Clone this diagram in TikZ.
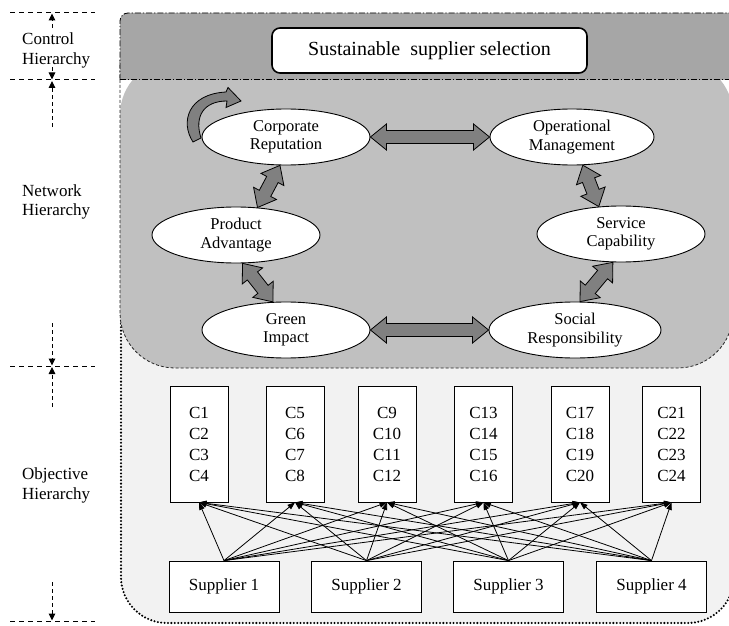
\documentclass[tikz,border=0pt]{standalone}
\usepackage{fontspec}
\setmainfont{Liberation Serif}
\usetikzlibrary{calc,arrows.meta,shapes.geometric}
\definecolor{topgray}{HTML}{A6A6A6}
\definecolor{netgray}{HTML}{C0C0C0}
\definecolor{objgray}{HTML}{F2F2F2}
\definecolor{arrgray}{HTML}{808080}
\newcommand\fatarrow[3]{%
  \coordinate (#1-a) at ($(#2)!16pt!(#3)$);
  \coordinate (#1-b) at ($(#3)!16pt!(#2)$);
  \filldraw[fatarr] (#2) -- ($(#1-a)!13pt!90:(#3)$) -- ($(#1-a)!6.5pt!90:(#3)$)
    -- ($(#1-b)!6.5pt!-90:(#2)$) -- ($(#1-b)!13pt!-90:(#2)$) -- (#3)
    -- ($(#1-b)!13pt!90:(#2)$) -- ($(#1-b)!6.5pt!90:(#2)$)
    -- ($(#1-a)!6.5pt!-90:(#3)$) -- ($(#1-a)!13pt!-90:(#3)$) -- cycle;}
\begin{document}
\begin{tikzpicture}[x=1pt,y=-1pt,
  fatarr/.style={fill=arrgray,draw=black,line width=0.8pt,line join=miter},
  ell/.style={ellipse,draw=black,fill=white,line width=0.9pt,minimum width=168,minimum height=56,inner sep=0pt,align=center,font=\fontsize{16.5}{18.5}\selectfont},
  cbox/.style={rectangle,draw=black,fill=white,line width=0.8pt,minimum width=58,minimum height=116,inner sep=0pt,align=center,font=\fontsize{17}{21}\selectfont},
  sbox/.style={rectangle,draw=black,fill=white,line width=0.8pt,minimum width=110,minimum height=51,inner sep=0pt,font=\fontsize{17}{20}\selectfont},
  lbl/.style={anchor=west,align=left,inner sep=0pt,font=\fontsize{17}{19.5}\selectfont},
  hdash/.style={draw=black,line width=1pt,dash pattern=on 5pt off 4pt},
  vdash/.style={draw=black,line width=1pt,dash pattern=on 4pt off 3pt,-{Triangle[length=7pt,width=6.5pt]}},
  sarr/.style={draw=black,line width=0.8pt,-{Triangle[length=7.5pt,width=5.5pt]}},
  dashdot/.style={draw=black,line width=0.8pt,dash pattern=on 6pt off 2pt on 1.2pt off 2pt},
  netborder/.style={draw=black!85,line width=0.8pt,dash pattern=on 3pt off 2pt},
  objborder/.style={draw=black,line width=2.3pt,line cap=round,dash pattern=on 0pt off 3.4pt}]
\useasboundingbox (0,0) rectangle (729,626);
\clip (0,0) rectangle (729,626);
% objective region
\fill[objgray,rounded corners=46pt] (121,300) -- (121,623) -- (734,623) -- (734,300) -- cycle;
\draw[objborder,rounded corners=46pt] (121,300) -- (121,623) -- (734,623) -- (734,300);
% network region
\fill[netgray,rounded corners=55pt] (120,60) -- (120,368) -- (733,368) -- (733,60) -- cycle;
\draw[netborder,rounded corners=55pt] (120,60) -- (120,368) -- (733,368) -- (733,60);
% control region
\fill[topgray] (120,80) [rounded corners=8pt] -- (120,13) [sharp corners] -- (745,13) -- (745,80) -- cycle;
\draw[dashdot] (120,80) [rounded corners=8pt] -- (120,13) [sharp corners] -- (745,13);
\draw[dashdot] (120,79.5) -- (745,79.5);
% title
\node[draw=black,fill=white,line width=1.6pt,rounded corners=8pt,minimum width=315,minimum height=45,inner sep=0pt,font=\fontsize{20}{24}\selectfont] (ss) at (429.5,50.5) {Sustainable\ \ supplier selection};
% left column
\node[lbl] (lc) at (22,50.5) {Control\\Hierarchy};
\node[lbl] (ln) at (22,202) {Network\\Hierarchy};
\node[lbl] (lo) at (22,485.5) {Objective\\Hierarchy};
\foreach \yy in {13,80,366,621} \draw[hdash] (10,\yy) -- (95,\yy);
\coordinate (ca1) at (52,28); \coordinate (ca2) at (52,13.5);
\coordinate (cb1) at (52,67); \coordinate (cb2) at (52,79.5);
\coordinate (na1) at (52,127); \coordinate (na2) at (52,81);
\coordinate (nb1) at (52,323); \coordinate (nb2) at (52,365.5);
\coordinate (oa1) at (52,407); \coordinate (oa2) at (52,367);
\coordinate (ob1) at (52,582); \coordinate (ob2) at (52,620.5);
\draw[vdash] (ca1) -- (ca2);
\draw[vdash] (cb1) -- (cb2);
\draw[vdash] (na1) -- (na2);
\draw[vdash] (nb1) -- (nb2);
\draw[vdash] (oa1) -- (oa2);
\draw[vdash] (ob1) -- (ob2);
% ellipses
\node[ell] (cr) at (286,137) {Corporate\\Reputation};
\node[ell,minimum width=164] (op) at (572,137) {Operational\\Management};
\node[ell] (pa) at (236,235) {Product\\Advantage};
\node[ell] (sc) at (621,234) {Service\\Capability};
\node[ell] (gi) at (286,330) {Green\\Impact};
\node[ell,minimum width=172] (sr) at (575,330) {Social\\Responsibility};
% fat double arrows
\fatarrow{f1}{cr.east}{op.west}
\fatarrow{f2}{gi.east}{sr.west}
\fatarrow{f3}{cr.-102}{pa.52}
\fatarrow{f4}{pa.-77}{gi.115}
\fatarrow{f5}{op.-69}{sc.129}
\fatarrow{f6}{sc.-106}{sr.80}
% curved self arrow
\filldraw[fatarr] (193,142) .. controls (180,122) and (188,94) .. (226,92)
  -- (228,87.5) -- (241,101) -- (226,107.5) -- (227,101)
  .. controls (204,101) and (194,116) .. (201,138) -- cycle;
% objective boxes
\node[cbox] (c1) at (199,444) {C1\\C2\\C3\\C4};
\node[cbox] (c2) at (295,444) {C5\\C6\\C7\\C8};
\node[cbox] (c3) at (387,444) {C9\\C10\\C11\\C12};
\node[cbox] (c4) at (483.5,444) {C13\\C14\\C15\\C16};
\node[cbox] (c5) at (580,444) {C17\\C18\\C19\\C20};
\node[cbox] (c6) at (671.5,444) {C21\\C22\\C23\\C24};
\node[sbox] (s1) at (224,586.5) {Supplier 1};
\node[sbox] (s2) at (366.5,586.5) {Supplier 2};
\node[sbox] (s3) at (508.5,586.5) {Supplier 3};
\node[sbox] (s4) at (651.5,586.5) {Supplier 4};
\foreach \s in {1,2,3,4}
  \foreach \c in {1,...,6}
    \draw[sarr] (s\s.north) -- (c\c.south);
\end{tikzpicture}
\end{document}
